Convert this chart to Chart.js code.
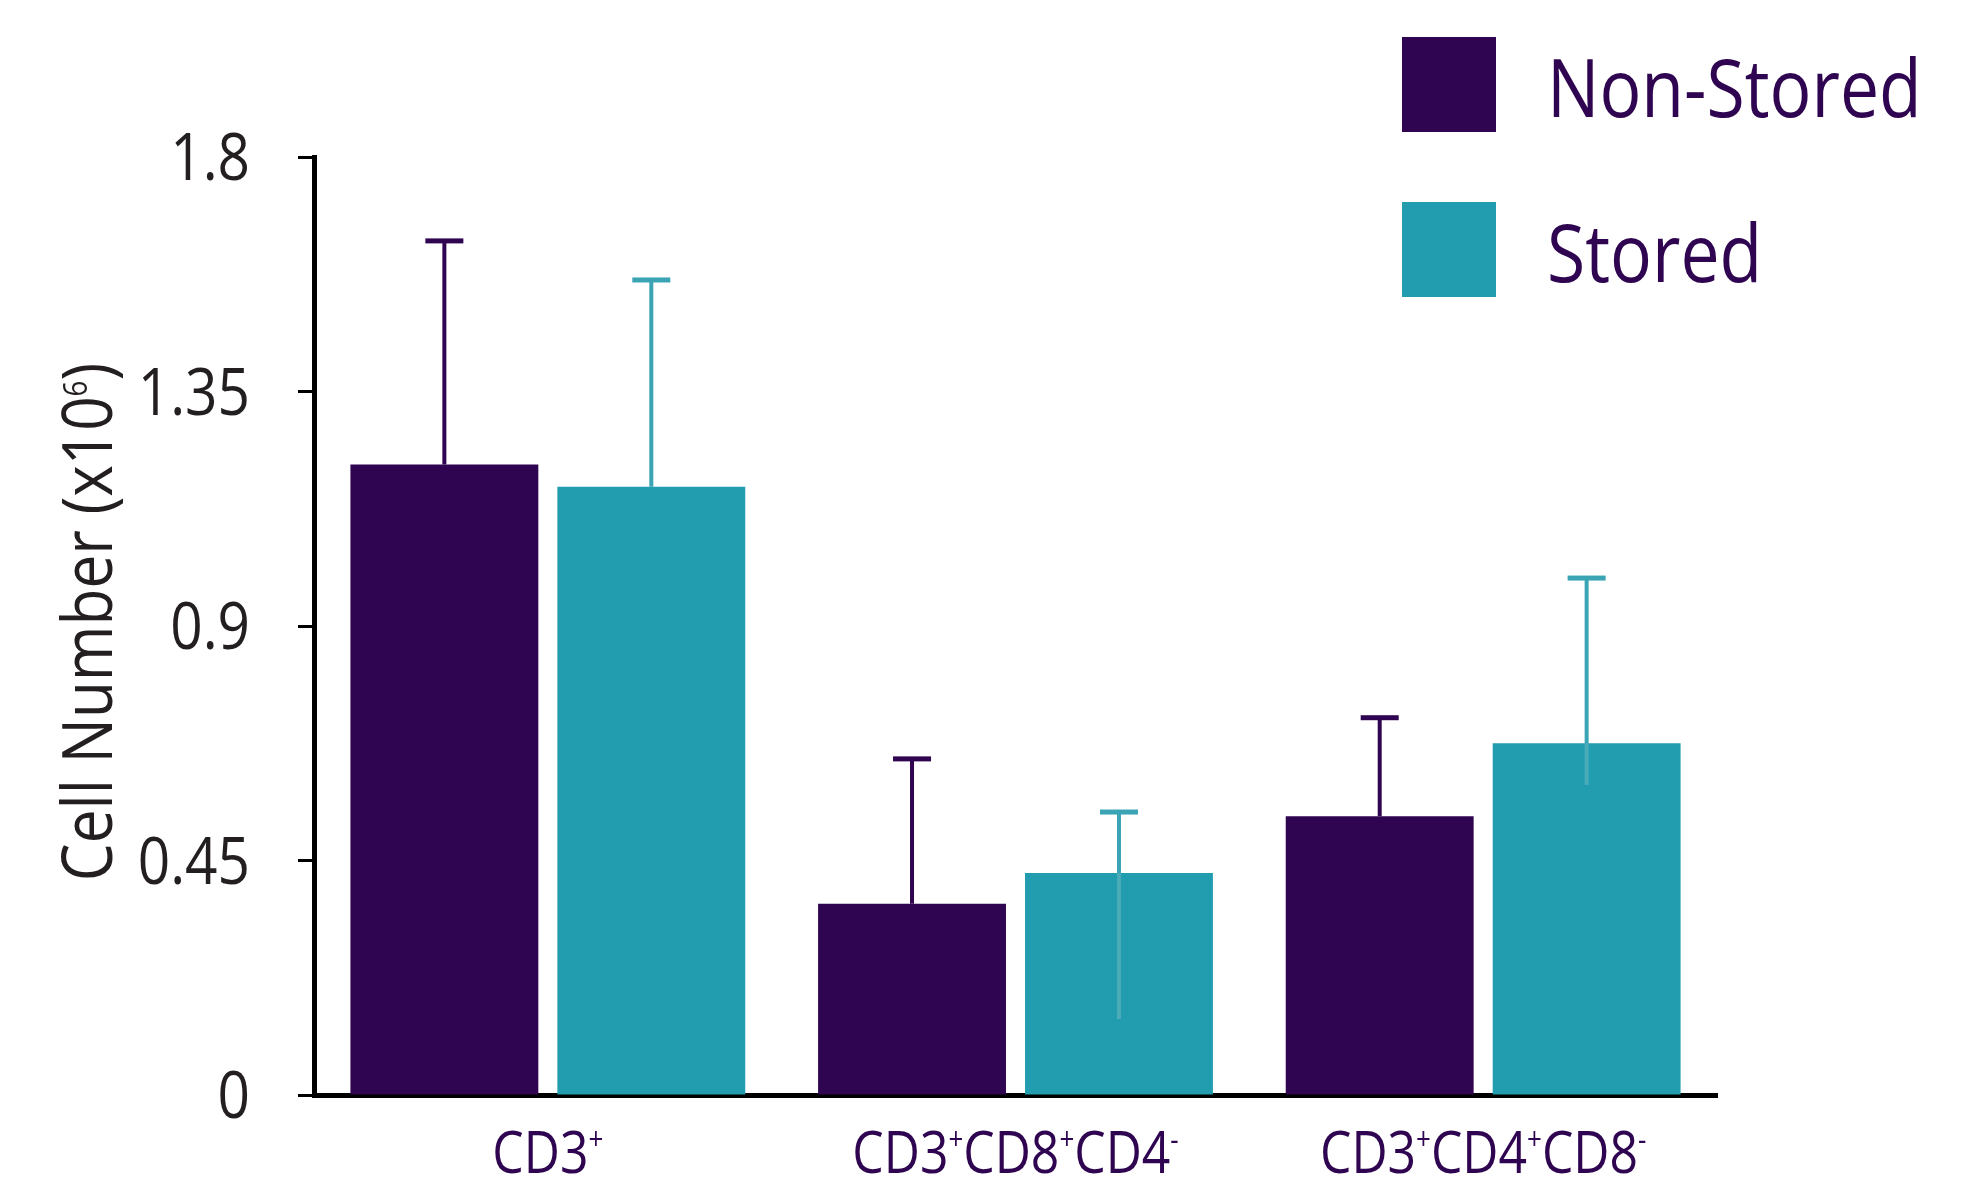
<!DOCTYPE html>
<html>
<head>
<meta charset="utf-8">
<title>Cell Number</title>
<script src="https://cdn.jsdelivr.net/npm/chart.js@4.4.1/dist/chart.umd.min.js"></script>
<style>
  html, body { margin: 0; padding: 0; background: #fff; }
  #wrap { width: 1988px; height: 1200px; }
</style>
</head>
<body>
<div id="wrap"><canvas id="cells" width="1988" height="1200"></canvas></div>
<script>
// cell counts (x10^6): bar means plus error bar ends
const categories = ['CD3+', 'CD3+CD8+CD4-', 'CD3+CD4+CD8-'];
const seriesNames = ['Non-Stored', 'Stored'];
const nonStored = [1.21, 0.367, 0.535];
const stored = [1.167, 0.426, 0.675];
const nonStoredHigh = [1.639, 0.645, 0.724];
const storedHigh = [1.564, 0.543, 0.992];
const storedLow = [null, 0.146, 0.595];
const yTicks = [0, 0.45, 0.9, 1.35, 1.8];
const yTitle = 'Cell Number (x10^6)';

const PURPLE = '#2f0450';
const TEAL = '#229daf';
const TEAL_ERR = '#3aa4b4';
const TEAL_ERR_LOW = '#4aabb9';
const INK = '#231f20';
const FONT = "'Open Sans', 'Noto Sans', sans-serif";
const SQUEEZE = 0.86; // narrow lettering

// "CD3+" -> runs, with + / - and ^x raised as superscripts
function toRuns(str) {
  const runs = [];
  let buf = '';
  for (let i = 0; i < str.length; i++) {
    const ch = str[i];
    if (ch === '+' || ch === '-' || ch === '^') {
      if (buf) runs.push({ t: buf });
      buf = '';
      if (ch === '^') { runs.push({ t: str[i + 1], sup: true }); i++; }
      else runs.push({ t: ch, sup: true });
    } else {
      buf += ch;
    }
  }
  if (buf) runs.push({ t: buf });
  return runs;
}

function drawRuns(ctx, runs, x, y, size, align, color, supScale, supRise) {
  ctx.save();
  ctx.fillStyle = color;
  ctx.textBaseline = 'alphabetic';
  ctx.textAlign = 'left';
  const widths = runs.map(r => {
    ctx.font = (r.sup ? size * supScale : size) + 'px ' + FONT;
    return ctx.measureText(r.t).width * SQUEEZE;
  });
  const total = widths.reduce((a, b) => a + b, 0);
  let cx = align === 'center' ? x - total / 2 : align === 'right' ? x - total : x;
  runs.forEach((r, i) => {
    ctx.font = (r.sup ? size * supScale : size) + 'px ' + FONT;
    ctx.save();
    ctx.translate(cx, r.sup ? y - size * supRise : y);
    ctx.scale(SQUEEZE, 1);
    ctx.fillText(r.t, 0, 0);
    ctx.restore();
    cx += widths[i];
  });
  ctx.restore();
}

const errorBars = {
  id: 'errorBars',
  afterDatasetsDraw(chart) {
    const { ctx, scales: { y } } = chart;
    chart.data.datasets.forEach((ds, di) => {
      const meta = chart.getDatasetMeta(di);
      meta.data.forEach((bar, i) => {
        ctx.save();
        ctx.lineWidth = 4;
        if (ds.errLow && ds.errLow[i] != null) {
          ctx.strokeStyle = TEAL_ERR_LOW;
          ctx.beginPath();
          ctx.moveTo(bar.x, bar.y);
          ctx.lineTo(bar.x, y.getPixelForValue(ds.errLow[i]));
          ctx.stroke();
        }
        const top = y.getPixelForValue(ds.errHigh[i]);
        ctx.strokeStyle = ds.errColor;
        ctx.beginPath();
        ctx.moveTo(bar.x, bar.y);
        ctx.lineTo(bar.x, top);
        ctx.stroke();
        ctx.fillStyle = ds.errColor;
        ctx.fillRect(bar.x - 19, top - 2.5, 38, 5);
        ctx.restore();
      });
    });
  }
};

const labels = {
  id: 'labels',
  afterDraw(chart) {
    const { ctx, chartArea, scales: { x, y } } = chart;

    // y tick values
    y.ticks.forEach((t, i) => {
      const py = y.getPixelForTick(i);
      drawRuns(ctx, [{ t: String(+t.value.toFixed(2)) }], chartArea.left - 64, py + 23, 66, 'right', INK, 0.5, 0.4);
    });

    // category names under the bars
    categories.forEach((c, i) => {
      drawRuns(ctx, toRuns(c), x.getPixelForValue(i), chartArea.bottom + 78, 58, 'center', PURPLE, 0.52, 0.4);
    });

    // y axis title
    ctx.save();
    ctx.translate(112, (chartArea.top + chartArea.bottom) / 2 - 4);
    ctx.rotate(-Math.PI / 2);
    drawRuns(ctx, toRuns(yTitle), 0, 0, 70, 'center', INK, 0.46, 0.36);
    ctx.restore();

    // legend, top right
    chart.data.datasets.forEach((ds, i) => {
      const top = 37 + i * 165;
      ctx.fillStyle = ds.backgroundColor;
      ctx.fillRect(1402, top, 94, 95);
      drawRuns(ctx, [{ t: ds.label }], 1547, top + 80, 81, 'left', PURPLE, 0.5, 0.4);
    });
  }
};

new Chart(document.getElementById('cells'), {
  type: 'bar',
  data: {
    labels: categories,
    datasets: [
      { label: seriesNames[0], data: nonStored, backgroundColor: PURPLE, errHigh: nonStoredHigh, errColor: PURPLE },
      { label: seriesNames[1], data: stored, backgroundColor: TEAL, errHigh: storedHigh, errLow: storedLow, errColor: TEAL_ERR }
    ]
  },
  options: {
    responsive: false,
    animation: false,
    layout: { padding: { top: 157, right: 271, bottom: 105, left: 0 } },
    datasets: { bar: { categoryPercentage: 0.885, barPercentage: 0.908, borderWidth: 0 } },
    plugins: { legend: { display: false }, tooltip: { enabled: false } },
    scales: {
      x: {
        ticks: { display: false },
        grid: { display: true, drawOnChartArea: false, drawTicks: false },
        border: { display: true, color: '#000', width: 5 },
        afterFit: s => { s.height = 0; }
      },
      y: {
        min: 0,
        max: 1.8,
        ticks: { display: false },
        afterBuildTicks: s => { s.ticks = yTicks.map(v => ({ value: v })); },
        grid: { drawOnChartArea: false, drawTicks: true, tickLength: 16, tickWidth: 3, color: '#000' },
        border: { display: true, color: '#000', width: 5 },
        afterFit: s => { s.width = 314; }
      }
    }
  },
  plugins: [errorBars, labels]
});
</script>
</body>
</html>
